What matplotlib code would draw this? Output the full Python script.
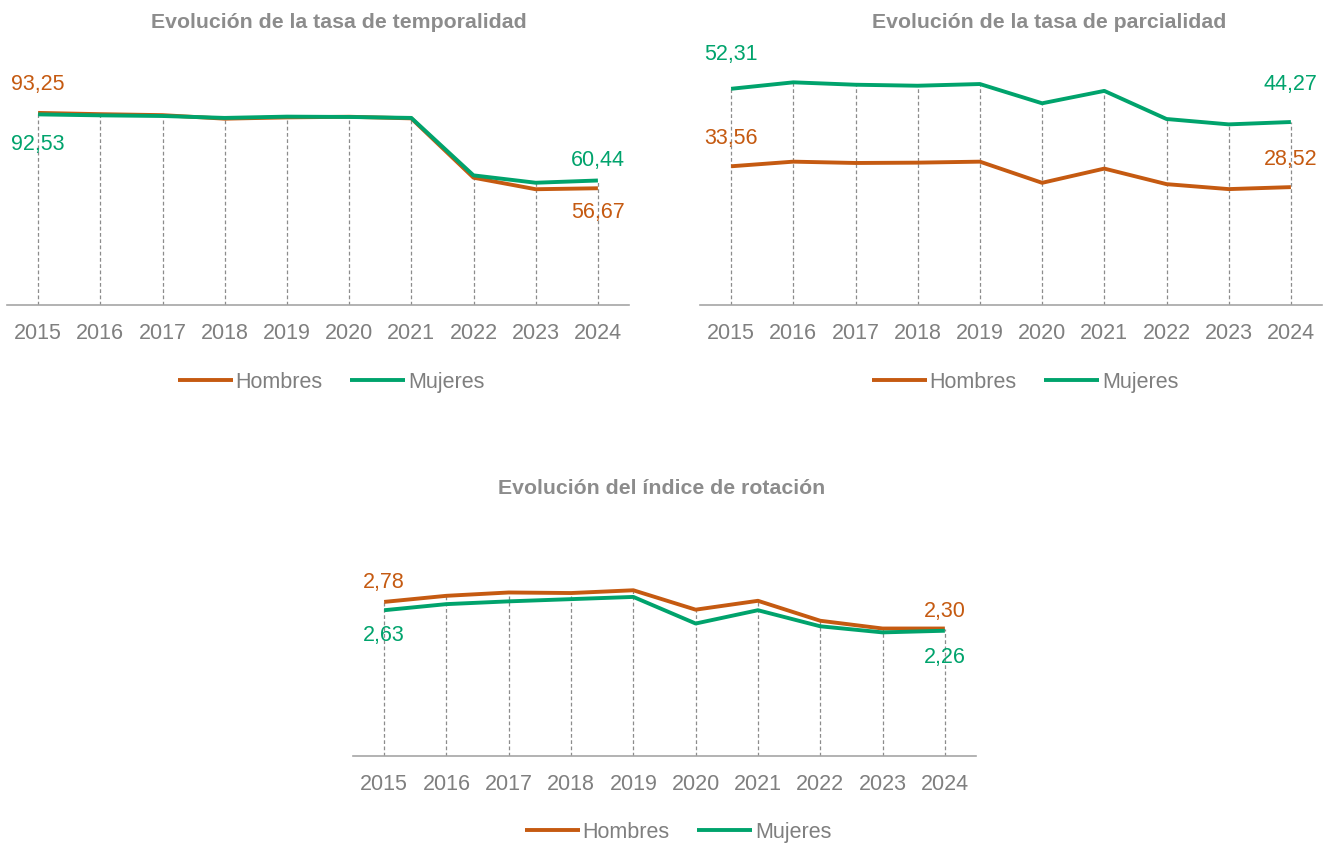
import matplotlib.pyplot as plt

plt.rcParams['font.family'] = ['Liberation Sans', 'DejaVu Sans']

years = [2015, 2016, 2017, 2018, 2019, 2020, 2021, 2022, 2023, 2024]
year_labels = [str(y) for y in years]

# tasa de temporalidad
temp_h = [93.25, 92.63, 92.16, 90.45, 91.07, 91.38, 90.60, 61.80, 56.20, 56.67]
temp_m = [92.53, 92.06, 91.75, 90.82, 91.44, 91.28, 90.82, 62.93, 59.35, 60.44]

# tasa de parcialidad
parc_h = [33.56, 34.68, 34.36, 34.44, 34.68, 29.56, 33.00, 29.24, 28.04, 28.52]
parc_m = [52.31, 53.87, 53.29, 53.05, 53.46, 48.80, 51.80, 45.00, 43.70, 44.27]

# indice de rotacion
rot_h = [2.78, 2.89, 2.95, 2.94, 2.99, 2.64, 2.80, 2.44, 2.30, 2.30]
rot_m = [2.63, 2.74, 2.79, 2.83, 2.87, 2.39, 2.63, 2.34, 2.23, 2.26]

ORANGE = '#C55A11'
GREEN = '#00A36C'
GRAY = '#7F7F7F'

W, H = 1331, 846
fig = plt.figure(figsize=(W / 100, H / 100), dpi=100)


def box(x0, x1, ytop, ybot):
    return [x0 / W, 1 - ybot / H, (x1 - x0) / W, (ybot - ytop) / H]


def fmt(v):
    return f'{v:.2f}'.replace('.', ',')


def chart(rect, title, title_xy, hom, muj, ymax, labs, leg_xy):
    ax = fig.add_axes(rect)
    x = list(range(len(years)))
    top = [max(a, b) for a, b in zip(hom, muj)]
    ax.vlines(x, 0, top, colors='#8C8C8C', linestyles=(0, (3, 2)), linewidth=0.9, zorder=1)
    lh, = ax.plot(x, hom, color=ORANGE, linewidth=2.8, solid_capstyle='butt', zorder=3, label='Hombres')
    lm, = ax.plot(x, muj, color=GREEN, linewidth=2.8, solid_capstyle='butt', zorder=4, label='Mujeres')
    ax.set_xlim(-0.5, len(years) - 0.5)
    ax.set_ylim(0, ymax)
    ax.set_xticks(x)
    ax.set_xticklabels(year_labels)
    ax.tick_params(axis='x', length=0, pad=13, labelsize=15.5, labelcolor=GRAY)
    ax.set_yticks([])
    for s in ['top', 'right', 'left']:
        ax.spines[s].set_visible(False)
    ax.spines['bottom'].set_color('#A6A6A6')
    ax.spines['bottom'].set_linewidth(1.2)
    # data labels: (series, index, offset px)
    for ser, i, dy in labs:
        vals = hom if ser == 'h' else muj
        col = ORANGE if ser == 'h' else GREEN
        ax.annotate(fmt(vals[i]), (i, vals[i]), xytext=(0, dy), textcoords='offset pixels',
                    ha='center', va='center', color=col, fontsize=15.5, annotation_clip=False)
    fig.text(title_xy[0] / W, 1 - title_xy[1] / H, title, ha='center', va='center', fontsize=15.3,
             fontweight='bold', color='#8C8C8C')
    fig.legend(handles=[lh, lm], loc='center', bbox_to_anchor=(leg_xy[0] / W, 1 - leg_xy[1] / H),
               ncol=2, frameon=False, fontsize=15.5, labelcolor=GRAY, handlelength=2.55,
               handletextpad=0.12, columnspacing=1.3)
    return ax


chart(box(7, 629, 99, 305), 'Evolución de la tasa de temporalidad', (339, 22), temp_h, temp_m, 100,
      [('h', 0, 28), ('m', 0, -30), ('m', 9, 20), ('h', 9, -24)], (331, 382))
chart(box(700, 1322, 57, 305), 'Evolución de la tasa de parcialidad', (1049, 22), parc_h, parc_m, 60,
      [('m', 0, 34), ('h', 0, 28), ('m', 9, 38), ('h', 9, 28)], (1025, 382))
chart(box(353, 976, 562, 756), 'Evolución del índice de rotación', (662, 488), rot_h, rot_m, 3.5,
      [('h', 0, 19), ('m', 0, -25), ('h', 9, 17), ('m', 9, -27)], (678, 832))

fig.savefig('out.png', dpi=100)
